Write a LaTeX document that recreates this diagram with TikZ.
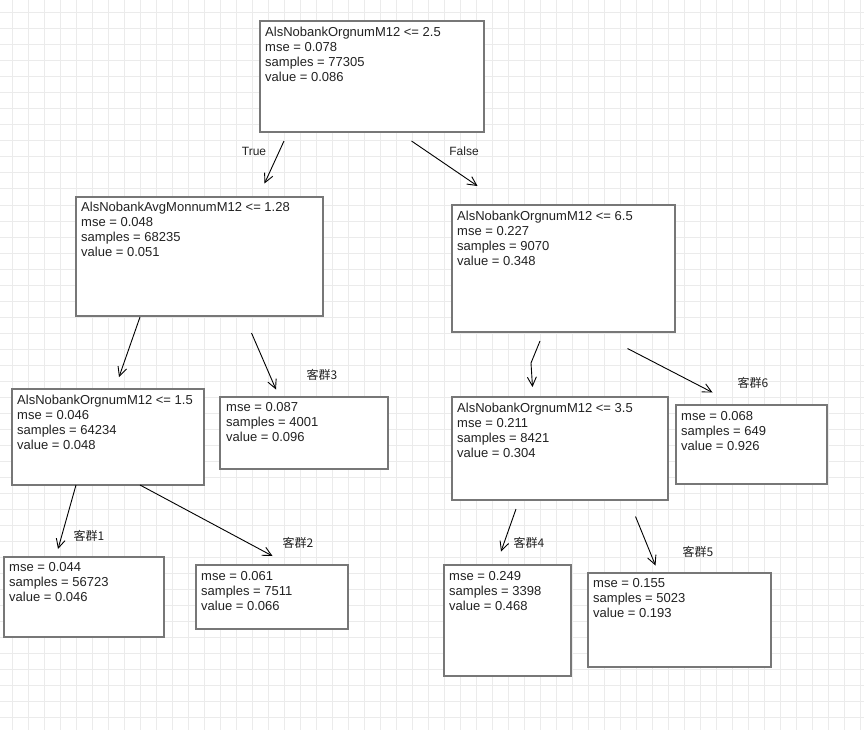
\documentclass[tikz,border=0pt]{standalone}
\usepackage{fontspec}
\setmainfont{Liberation Sans}
\newfontfamily\cjkfont{Noto Sans CJK SC}
\usetikzlibrary{arrows.meta}
\definecolor{gridline}{HTML}{EBEBEB}
\definecolor{boxline}{HTML}{777777}
\definecolor{ink}{HTML}{222222}
\begin{document}
\begin{tikzpicture}[x=1pt,y=-1pt,
  treebox/.style={draw=boxline,line width=2pt,fill=white},
  boxtext/.style={anchor=north west,inner sep=0pt,align=left,text=ink,
    font=\fontsize{13}{15}\selectfont},
  edgelabel/.style={inner sep=0pt,text=ink,font=\fontsize{12}{14}\selectfont},
  grouplabel/.style={inner sep=0pt,text=ink,font=\cjkfont\fontsize{12}{14}\selectfont},
  link/.style={draw=black,line width=0.9pt,-{Straight Barb[length=9pt,width=9pt]}}]
% canvas and background grid
\useasboundingbox (0,0) rectangle (864,730);
\fill[white] (0,0) rectangle (864,730);
\foreach \gx in {12,28,...,860} \draw[gridline,line width=1pt] (\gx,0) -- (\gx,730);
\foreach \gy in {13,29,...,729} \draw[gridline,line width=1pt] (0,\gy) -- (864,\gy);

% boxes
\draw[treebox] (260,21) rectangle (484,132);
\draw[treebox] (76,197) rectangle (323,316);
\draw[treebox] (452,205) rectangle (675,332);
\draw[treebox] (12,389) rectangle (204,485);
\draw[treebox] (220,397) rectangle (388,469);
\draw[treebox] (452,397) rectangle (668,500);
\draw[treebox] (676,405) rectangle (827,484);
\draw[treebox] (4,557) rectangle (164,637);
\draw[treebox] (196,565) rectangle (348,629);
\draw[treebox] (444,565) rectangle (571,676);
\draw[treebox] (588,573) rectangle (771,667);

% box contents
\node[boxtext] (root) at (265,27) {AlsNobankOrgnumM12 <= 2.5\\mse = 0.078\\samples = 77305\\value = 0.086};
\node[boxtext] (left) at (81,202) {AlsNobankAvgMonnumM12 <= 1.28\\mse = 0.048\\samples = 68235\\value = 0.051};
\node[boxtext] (right) at (457,210.5) {AlsNobankOrgnumM12 <= 6.5\\mse = 0.227\\samples = 9070\\value = 0.348};
\node[boxtext] (leftleft) at (17,394.5) {AlsNobankOrgnumM12 <= 1.5\\mse = 0.046\\samples = 64234\\value = 0.048};
\node[boxtext] (leaf3) at (226,402.5) {mse = 0.087\\samples = 4001\\value = 0.096};
\node[boxtext] (rightleft) at (457,402.5) {AlsNobankOrgnumM12 <= 3.5\\mse = 0.211\\samples = 8421\\value = 0.304};
\node[boxtext] (leaf6) at (681,411) {mse = 0.068\\samples = 649\\value = 0.926};
\node[boxtext] (leaf1) at (9,562.5) {mse = 0.044\\samples = 56723\\value = 0.046};
\node[boxtext] (leaf2) at (201,571.5) {mse = 0.061\\samples = 7511\\value = 0.066};
\node[boxtext] (leaf4) at (449,571.5) {mse = 0.249\\samples = 3398\\value = 0.468};
\node[boxtext] (leaf5) at (593,578.5) {mse = 0.155\\samples = 5023\\value = 0.193};

% branch labels
\node[edgelabel] (ltrue) at (254,151) {True};
\node[edgelabel] (lfalse) at (464,151) {False};
\node[grouplabel] (g1) at (89,536) {客群1};
\node[grouplabel] (g2) at (298,543) {客群2};
\node[grouplabel] (g3) at (322,375) {客群3};
\node[grouplabel] (g4) at (529,543) {客群4};
\node[grouplabel] (g5) at (698,552) {客群5};
\node[grouplabel] (g6) at (753,383) {客群6};

% connector end points
\coordinate (a1s) at (284,141);   \coordinate (a1e) at (264.5,183.5);
\coordinate (a2s) at (411.5,141); \coordinate (a2e) at (477.5,186);
\coordinate (a3s) at (140,317);   \coordinate (a3e) at (119,377);
\coordinate (a4s) at (251.5,333); \coordinate (a4e) at (276,389.5);
\coordinate (a5s) at (540,341);   \coordinate (a5m) at (531,363); \coordinate (a5e) at (532.5,387);
\coordinate (a6s) at (627.5,348.5); \coordinate (a6e) at (712.5,392.5);
\coordinate (a7s) at (76,485);    \coordinate (a7e) at (58,549);
\coordinate (a8s) at (140,485);   \coordinate (a8e) at (272.5,556);
\coordinate (a9s) at (516,509);   \coordinate (a9e) at (501,551.5);
\coordinate (a10s) at (635.5,516.5); \coordinate (a10e) at (655.5,565.5);

% connectors
\draw[link] (a1s) -- (a1e);
\draw[link] (a2s) -- (a2e);
\draw[link] (a3s) -- (a3e);
\draw[link] (a4s) -- (a4e);
\draw[link] (a5s) -- (a5m) -- (a5e);
\draw[link] (a6s) -- (a6e);
\draw[link] (a7s) -- (a7e);
\draw[link] (a8s) -- (a8e);
\draw[link] (a9s) -- (a9e);
\draw[link] (a10s) -- (a10e);
\end{tikzpicture}
\end{document}
